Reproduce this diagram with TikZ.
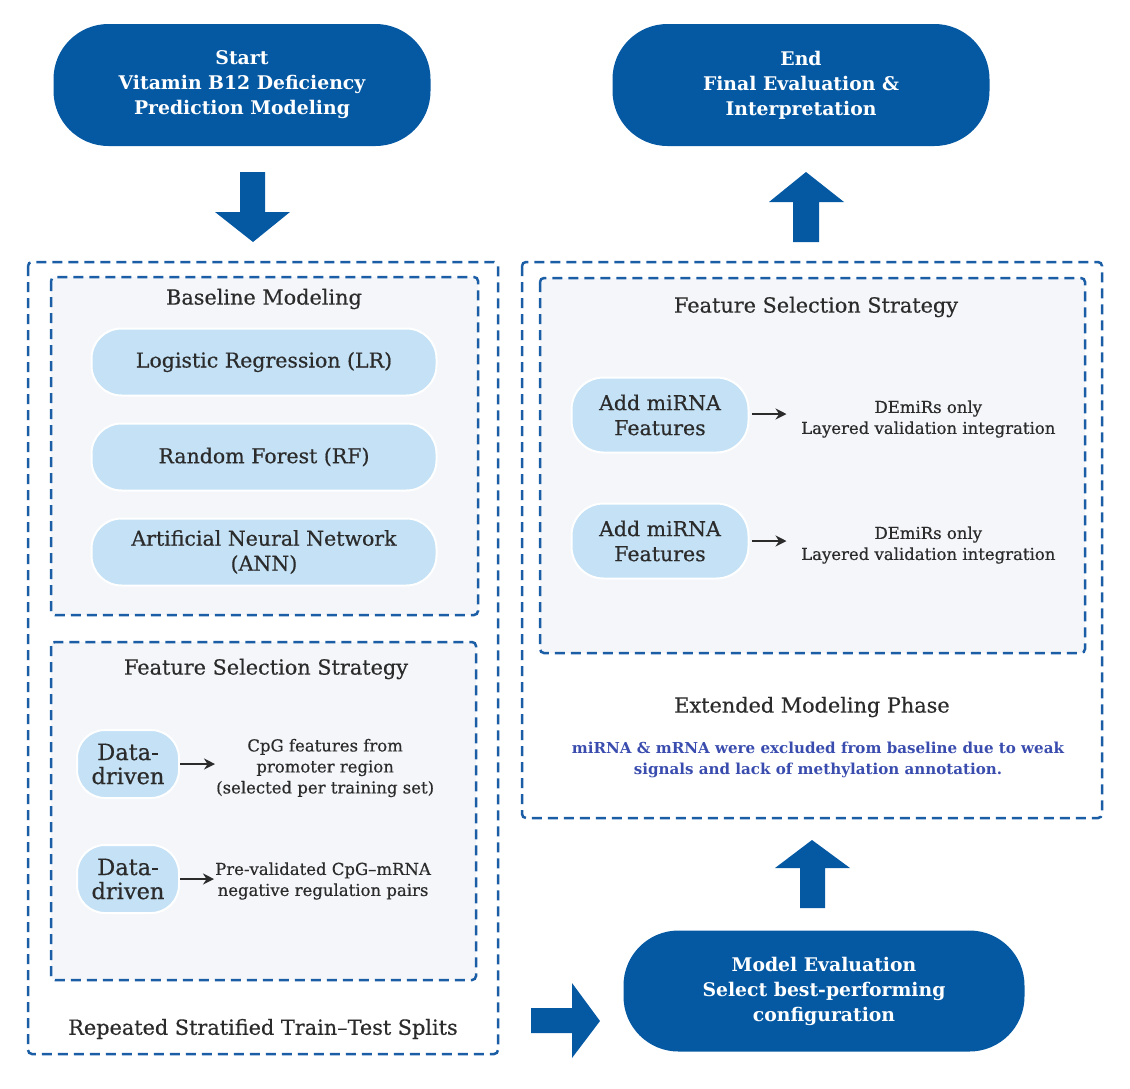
\documentclass[tikz,border=0pt]{standalone}
\usepackage{fontspec}
\setmainfont{DejaVu Serif}
\newfontfamily\mediumserif[FakeBold=0.5]{DejaVu Serif}
\usetikzlibrary{arrows.meta}

\definecolor{deepblue}{HTML}{0559A3}
\definecolor{dashblue}{HTML}{1B5EA6}
\definecolor{paleblue}{HTML}{C4E1F6}
\definecolor{panel}{HTML}{F4F6FA}
\definecolor{inkgray}{HTML}{2B2B2B}
\definecolor{noteblue}{HTML}{3A4DAF}

\tikzset{
  terminal/.style={fill=deepblue, rounded corners=55pt, minimum width=377pt,
    minimum height=122pt, text=white, align=center,
    font=\bfseries\fontsize{18.8}{25}\selectfont},
  phase/.style={draw=dashblue, line width=2.5pt, dash pattern=on 10pt off 6pt,
    rounded corners=4pt},
  pill/.style={fill=paleblue, draw=white, line width=2pt, rounded corners=30pt,
    text=inkgray, align=center, font=\mediumserif\fontsize{20.5}{25}\selectfont},
  header/.style={text=inkgray, font=\mediumserif\fontsize{20.8}{24}\selectfont},
  detail/.style={text=inkgray, align=center, inner sep=1pt,
    font=\mediumserif\fontsize{16.5}{21}\selectfont},
  smallarrow/.style={-{Stealth[length=11pt,width=11pt]}, line width=2pt, draw=inkgray},
}

\begin{document}
\begin{tikzpicture}[x=1pt, y=-1pt]
  \useasboundingbox (0,0) rectangle (1130,1088);

  % start / end
  \node[terminal] (start) at (242,85) {Start\\Vitamin B12 Deficiency\\Prediction Modeling};
  \node[terminal] (finish) at (801,85) {End\\Final Evaluation \&\\Interpretation};

  % left phase
  \draw[phase] (28,262) rectangle (498,1054);
  \draw[phase, fill=panel] (51,277) rectangle (478,615);
  \draw[phase, fill=panel] (51,642) rectangle (476,980);
  \node[header] (base) at (264,299) {Baseline Modeling};
  \node[pill, minimum width=345pt, minimum height=67pt] (lr) at (264,362) {Logistic Regression (LR)};
  \node[pill, minimum width=345pt, minimum height=67pt] (rf) at (264,457) {Random Forest (RF)};
  \node[pill, minimum width=345pt, minimum height=67pt] (ann) at (264,552) {Artificial Neural Network\\(ANN)};

  \node[header] (fsleft) at (266,669) {Feature Selection Strategy};
  \node[pill, minimum width=102pt, minimum height=68pt, rounded corners=28pt,
    font=\mediumserif\fontsize{22.5}{24}\selectfont] (dd1) at (128,764) {Data-\\driven};
  \node[pill, minimum width=102pt, minimum height=68pt, rounded corners=28pt,
    font=\mediumserif\fontsize{22.5}{24}\selectfont] (dd2) at (128,879) {Data-\\driven};
  \node[detail, anchor=west] (cpg) at (215,768) {CpG features from\\promoter region\\(selected per training set)};
  \node[detail, anchor=west] (pairs) at (214,881) {Pre-validated CpG–mRNA\\negative regulation pairs};
  \draw[smallarrow] (dd1.east) -- (cpg.west |- dd1.east);
  \draw[smallarrow] (dd2.east) -- (pairs.west |- dd2.east);

  \node[header] (splits) at (263,1029) {Repeated Stratified Train–Test Splits};

  % right phase
  \draw[phase] (522,262) rectangle (1102,818);
  \draw[phase, fill=panel] (540,278) rectangle (1085,653);
  \node[header] (fsright) at (816,307) {Feature Selection Strategy};
  \node[pill, minimum width=177pt, minimum height=75pt, rounded corners=32pt] (mir1) at (660,415) {Add miRNA\\Features};
  \node[pill, minimum width=177pt, minimum height=75pt, rounded corners=32pt] (mir2) at (660,541) {Add miRNA\\Features};
  \node[detail, anchor=west] (dem1) at (800,419) {DEmiRs only\\Layered validation integration};
  \node[detail, anchor=west] (dem2) at (800,545) {DEmiRs only\\Layered validation integration};
  \draw[smallarrow] (mir1.east) ++(2,-1) -- ++(35,0);
  \draw[smallarrow] (mir2.east) ++(2,0) -- ++(35,0);

  \node[header] (ext) at (812,707) {Extended Modeling Phase};
  \node[text=noteblue, align=center, font=\bfseries\fontsize{15.1}{21}\selectfont] (note) at (818,760)
    {miRNA \& mRNA were excluded from baseline due to weak\\signals and lack of methylation annotation.};

  % evaluation
  \node[terminal, minimum width=401pt, minimum height=121pt] (eval) at (824,991) {Model Evaluation\\Select best-performing\\configuration};

  % block arrows
  \fill[deepblue] (240,172) -- (265,172) -- (265,212) -- (290,212) -- (253,242) -- (215,212) -- (240,212) -- cycle;
  \fill[deepblue] (531,1008) -- (572,1008) -- (572,983) -- (600,1021) -- (572,1058) -- (572,1033) -- (531,1033) -- cycle;
  \fill[deepblue] (800,908) -- (825,908) -- (825,868) -- (850,868) -- (812,840) -- (775,868) -- (800,868) -- cycle;
  \fill[deepblue] (793,242) -- (819,242) -- (819,202) -- (844,202) -- (806,172) -- (769,202) -- (793,202) -- cycle;
\end{tikzpicture}
\end{document}
